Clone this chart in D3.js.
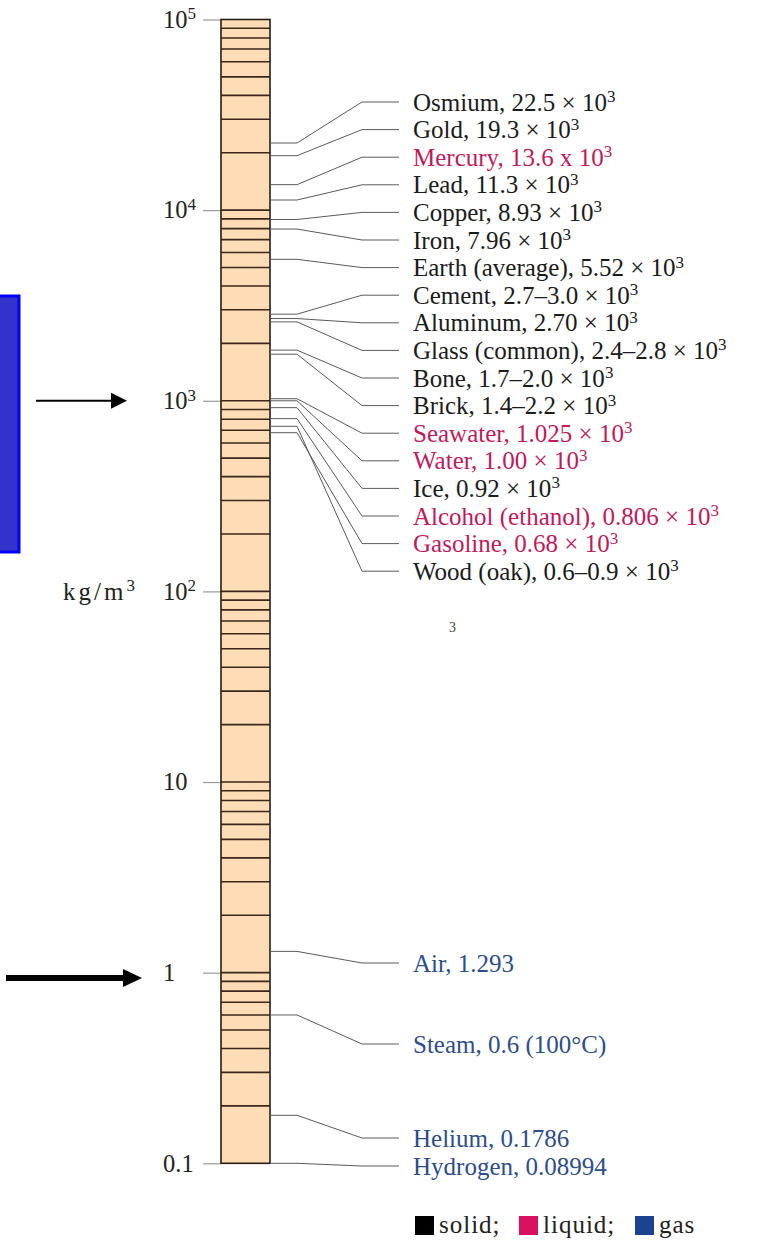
<!DOCTYPE html>
<html>
<head>
<meta charset="utf-8">
<script src="https://cdn.jsdelivr.net/npm/d3@7"></script>
<style>
  html, body { margin: 0; padding: 0; background: #ffffff; }
  svg { display: block; }
  text { font-family: "Liberation Serif", "DejaVu Serif", serif; }
</style>
</head>
<body>
<svg id="chart" width="759" height="1247"></svg>
<script>
// Densities of common substances, kg/m^3
const materials = [
  "Osmium", "Gold", "Mercury", "Lead", "Copper", "Iron", "Earth (average)",
  "Cement", "Aluminum", "Glass (common)", "Bone", "Brick", "Seawater", "Water",
  "Ice", "Alcohol (ethanol)", "Gasoline", "Wood (oak)"
];
// low / high end of each density (equal when a single value is given)
const densityLow = [22.5e3, 19.3e3, 13.6e3, 11.3e3, 8.93e3, 7.96e3, 5.52e3,
  2.7e3, 2.70e3, 2.4e3, 1.7e3, 1.4e3, 1.025e3, 1.00e3, 0.92e3, 0.806e3, 0.68e3, 0.6e3];
const densityHigh = [22.5e3, 19.3e3, 13.6e3, 11.3e3, 8.93e3, 7.96e3, 5.52e3,
  3.0e3, 2.70e3, 2.8e3, 2.0e3, 2.2e3, 1.025e3, 1.00e3, 0.92e3, 0.806e3, 0.68e3, 0.9e3];
const densityText = ["22.5", "19.3", "13.6", "11.3", "8.93", "7.96", "5.52",
  "2.7–3.0", "2.70", "2.4–2.8", "1.7–2.0", "1.4–2.2", "1.025", "1.00", "0.92",
  "0.806", "0.68", "0.6–0.9"];
const phase = ["solid", "solid", "liquid", "solid", "solid", "solid", "solid",
  "solid", "solid", "solid", "solid", "solid", "liquid", "liquid", "solid",
  "liquid", "liquid", "solid"];

const gases = ["Air", "Steam", "Helium", "Hydrogen"];
const gasDensity = [1.293, 0.6, 0.1786, 0.08994];
const gasText = ["1.293", "0.6 (100°C)", "0.1786", "0.08994"];

const decades = [0.1, 1, 10, 100, 1e3, 1e4, 1e5];
const decadeMain = ["0.1", "1", "10", "10", "10", "10", "10"];
const decadeSup = ["", "", "", "2", "3", "4", "5"];

const legendItems = ["solid", "liquid", "gas"];

const phaseText = { solid: "#1b1b1b", liquid: "#c4185c", gas: "#2d4d8c" };
const phaseSwatch = { solid: "#000000", liquid: "#d9105e", gas: "#1c438f" };

const svg = d3.select("#chart");

const barX = 221, barW = 49;
const y = d3.scaleLog().domain([0.1, 1e5]).range([1163.3, 19.5]).clamp(true);

const FS = 25, SUP = 17;

// side panel and pointer arrows
svg.append("rect").attr("x", -10).attr("y", 296).attr("width", 29).attr("height", 256)
  .attr("fill", "#3333cc").attr("stroke", "#0000ff").attr("stroke-width", 3);

function arrow(x0, x1, yy, w, hl, hh) {
  svg.append("line").attr("x1", x0).attr("x2", x1 - hl + 2).attr("y1", yy).attr("y2", yy)
    .attr("stroke", "#000").attr("stroke-width", w);
  svg.append("polygon")
    .attr("points", `${x1 - hl},${yy - hh} ${x1},${yy} ${x1 - hl},${yy + hh}`)
    .attr("fill", "#000");
}
arrow(36, 127, y(1e3), 2, 16, 8);
arrow(6, 142, 978, 6, 19, 9);

// axis ticks at each decade
const axis = d3.axisLeft(y).tickValues(decades).tickSizeInner(18).tickSizeOuter(0)
  .tickFormat(() => "");
const axG = svg.append("g").attr("transform", `translate(${barX},0)`).call(axis);
axG.select(".domain").remove();
axG.selectAll(".tick line").attr("stroke", "#9a9a9a").attr("stroke-width", 1.2);

// decade labels
const dl = svg.append("g").selectAll("text").data(decades).join("text")
  .attr("x", 163).attr("y", d => y(d)).attr("dy", "0.34em")
  .attr("font-size", 24.5).attr("fill", "#222");
dl.append("tspan").text((d, i) => decadeMain[i]);
dl.append("tspan").attr("font-size", SUP).attr("dy", "-0.5em").text((d, i) => decadeSup[i]);

// unit label
const unit = svg.append("text").attr("x", 63).attr("y", y(100)).attr("dy", "0.34em")
  .attr("font-size", FS).attr("fill", "#222");
unit.append("tspan").attr("letter-spacing", 3).text("kg/m");
unit.append("tspan").attr("font-size", SUP).attr("dy", "-0.5em").text("3");

// the density column
svg.append("rect").attr("x", barX).attr("y", y(1e5)).attr("width", barW)
  .attr("height", y(0.1) - y(1e5)).attr("fill", "#fddcb6");
const minor = y.ticks().filter(v => v > 0.1 && v < 1e5);
svg.append("g").selectAll("line").data(minor).join("line")
  .attr("x1", barX).attr("x2", barX + barW)
  .attr("y1", d => y(d)).attr("y2", d => y(d))
  .attr("stroke", "#3a2818").attr("stroke-width", 1.6);
svg.append("rect").attr("x", barX).attr("y", y(1e5)).attr("width", barW)
  .attr("height", y(0.1) - y(1e5)).attr("fill", "none")
  .attr("stroke", "#2a1d12").attr("stroke-width", 1.6);

// leaders and labels
const rowTop = 102, rowStep = 27.6;
const gasRowY = [963, 1044, 1138, 1166];
const xBend1 = barX + barW + 27, xBend2 = 362, xEnd = 399, xText = 413;

const rows = materials.map((m, i) => ({
  name: m,
  anchor: Math.sqrt(densityLow[i] * densityHigh[i]),
  text: densityText[i],
  times: m === "Mercury" ? " x " : " × ",
  sup: "3",
  phase: phase[i],
  ly: rowTop + i * rowStep
})).concat(gases.map((g, i) => ({
  name: g, anchor: gasDensity[i], text: gasText[i], times: null, sup: "",
  phase: "gas", ly: gasRowY[i]
})));

svg.append("g").selectAll("path").data(rows).join("path")
  .attr("d", d => {
    const yv = y(d.anchor);
    return d3.line()([[barX + barW, yv], [xBend1, yv], [xBend2, d.ly], [xEnd, d.ly]]);
  })
  .attr("fill", "none").attr("stroke", "#5a5a5a").attr("stroke-width", 1);

const lbl = svg.append("g").selectAll("text").data(rows).join("text")
  .attr("x", xText).attr("y", d => d.ly).attr("dy", "0.34em")
  .attr("font-size", FS).attr("fill", d => phaseText[d.phase]);
lbl.append("tspan").text(d => d.times ? `${d.name}, ${d.text}${d.times}10` : `${d.name}, ${d.text}`);
lbl.append("tspan").attr("font-size", SUP).attr("dy", "-0.5em").text(d => d.sup);

// stray footnote mark
svg.append("text").attr("x", 449).attr("y", 632).attr("font-size", 14)
  .attr("font-family", "DejaVu Sans, sans-serif").attr("fill", "#444").text("3");

// legend
const legX = [415, 519, 635];
const leg = svg.append("g").selectAll("g").data(legendItems).join("g")
  .attr("transform", (d, i) => `translate(${legX[i]},1216)`);
leg.append("rect").attr("width", 19).attr("height", 19).attr("fill", d => phaseSwatch[d]);
leg.append("text").attr("x", 24).attr("y", 17).attr("font-size", FS).attr("fill", "#222")
  .attr("letter-spacing", 1)
  .text((d, i) => i < legendItems.length - 1 ? d + ";" : d);
</script>
</body>
</html>
